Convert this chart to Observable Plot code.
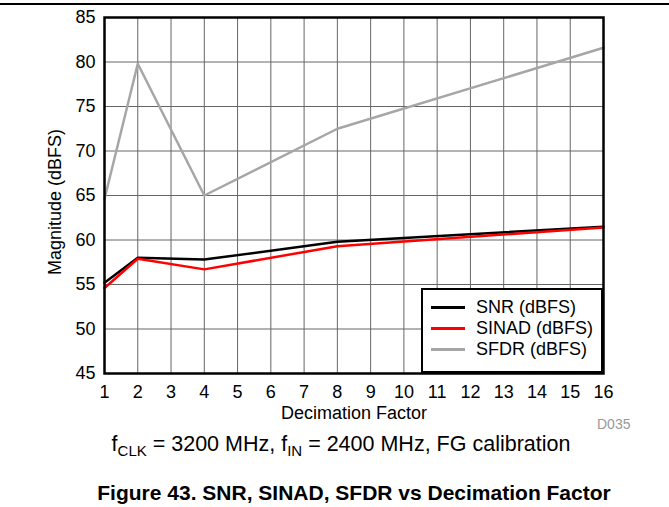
<!DOCTYPE html>
<html>
<head>
<meta charset="utf-8">
<script src="https://cdn.jsdelivr.net/npm/d3@7"></script>
<script src="https://cdn.jsdelivr.net/npm/@observablehq/plot@0.6"></script>
<style>
  body { margin: 0; background: #fff; font-family: "Liberation Sans", Arial, sans-serif; }
  #wrap { position: relative; width: 669px; height: 507px; overflow: hidden; }
  .abs { position: absolute; white-space: nowrap; color: #000; }
  #chart svg { position: absolute; left: 0; top: 0; }
</style>
</head>
<body>
<div id="wrap">
  <div id="chart"></div>
</div>
<script>
const factors = [1, 2, 4, 8, 16];
const snr   = [55.2, 58.0, 57.8, 59.8, 61.5];
const sinad = [54.6, 57.9, 56.7, 59.3, 61.4];
const sfdr  = [64.6, 79.8, 65.0, 72.5, 81.6];
const seriesNames = ["SNR (dBFS)", "SINAD (dBFS)", "SFDR (dBFS)"];
const seriesColors = ["#000000", "#ff0000", "#a6a6a6"];
const xTicks = d3.range(1, 17);
const yTicks = [45, 50, 55, 60, 65, 70, 75, 80, 85];

const allSeries = [snr, sinad, sfdr];
const rows = [];
allSeries.forEach((vals, si) => factors.forEach((f, i) => rows.push({series: seriesNames[si], x: f, y: vals[i]})));

const chart = Plot.plot({
  width: 669,
  height: 430,
  marginLeft: 104,
  marginRight: 66,
  marginTop: 17,
  marginBottom: 57,
  style: {fontFamily: "Liberation Sans, Arial, sans-serif", fontSize: "18px", color: "#000", background: "transparent"},
  x: {domain: [1, 16], label: null},
  y: {domain: [45, 85], label: null},
  color: {domain: seriesNames, range: seriesColors},
  marks: [
    Plot.gridX(xTicks, {stroke: "#666", strokeOpacity: 1, strokeWidth: 1}),
    Plot.gridY(yTicks, {stroke: "#666", strokeOpacity: 1, strokeWidth: 1}),
    Plot.line(rows, {x: "x", y: "y", z: "series", stroke: "series", strokeWidth: 2.5}),
    Plot.frame({stroke: "#000", strokeWidth: 2.5}),
    Plot.axisX(xTicks, {tickSize: 0, tickPadding: 12, fontSize: 18, tickFormat: d => String(d), label: null}),
    Plot.axisY(yTicks, {tickSize: 0, tickPadding: 9, fontSize: 18, label: null})
  ]
});
document.getElementById("chart").appendChild(chart);

const wrap = document.getElementById("wrap");
function addDiv(html, style) {
  const d = document.createElement("div");
  d.className = "abs";
  d.innerHTML = html;
  Object.assign(d.style, style);
  wrap.appendChild(d);
  return d;
}
// top rule
addDiv("", {left: "0px", top: "3px", width: "669px", height: "2px", background: "#000"});
// y axis title
addDiv("Magnitude (dBFS)", {left: "55px", top: "202px", fontSize: "18px", transform: "translate(-50%,-50%) rotate(-90deg)"});
// x axis title
addDiv("Decimation Factor", {left: "354px", top: "413px", fontSize: "18px", transform: "translate(-50%,-50%)"});
// D035
addDiv("D035", {left: "597px", top: "416px", fontSize: "14px", color: "#999"});
// subtitle
addDiv("f<sub style='font-size:15px;vertical-align:-5px'>CLK</sub> = 3200 MHz, f<sub style='font-size:15px;vertical-align:-5px'>IN</sub> = 2400 MHz, FG calibration",
  {left: "341px", top: "445px", fontSize: "21.5px", transform: "translate(-50%,-50%)"});
// figure caption
addDiv("Figure 43. SNR, SINAD, SFDR vs Decimation Factor",
  {left: "354px", top: "493px", fontSize: "21px", fontWeight: "bold", transform: "translate(-50%,-50%)"});

// legend
const leg = addDiv("", {left: "421px", top: "288px", width: "178px", height: "81px", background: "#fff", border: "2px solid #000"});
seriesNames.forEach((name, i) => {
  const row = document.createElement("div");
  Object.assign(row.style, {position: "absolute", left: "8px", top: (7 + i * 21) + "px", height: "21px", display: "flex", alignItems: "center", fontSize: "18px"});
  const sw = document.createElement("span");
  Object.assign(sw.style, {display: "inline-block", width: "34px", height: "2.5px", background: seriesColors[i], marginRight: "11px"});
  const t = document.createElement("span");
  t.textContent = name;
  row.appendChild(sw); row.appendChild(t);
  leg.appendChild(row);
});
</script>
</body>
</html>
